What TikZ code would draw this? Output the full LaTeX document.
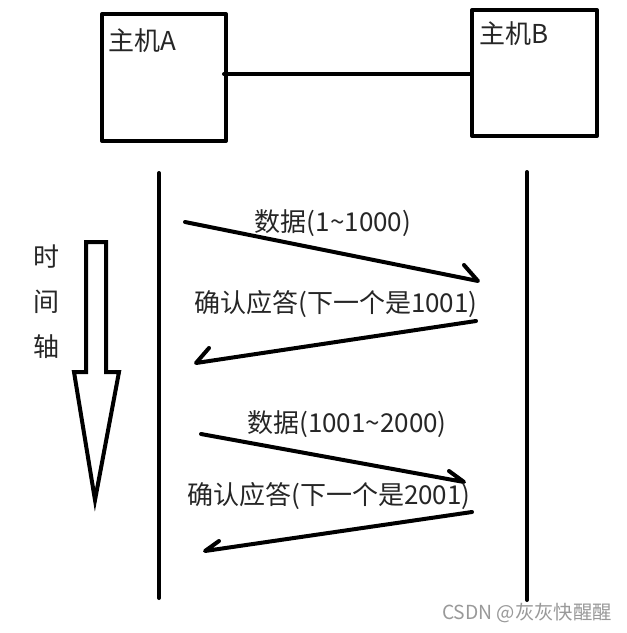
\documentclass[tikz,border=0pt]{standalone}
\usepackage{fontspec}
\setmainfont{Noto Sans CJK SC}
\newcommand{\tld}{{\char"7E\relax}}
\begin{document}
\begin{tikzpicture}[x=0.75pt,y=-0.75pt,
  line/.style={line width=3pt,line cap=round,line join=round},
  lbl/.style={font=\fontsize{19.5}{21}\selectfont,text=black!85,inner sep=0pt},
  wmark/.style={font=\fontsize{14.5}{16}\selectfont,text=black!40,inner sep=0pt}]
\useasboundingbox[fill=white] (0,0) rectangle (627,633);
% hosts
\node[line,draw,minimum width=124*0.75pt,minimum height=127*0.75pt,anchor=north west] (A) at (100,12) {};
\node[line,draw,minimum width=125*0.75pt,minimum height=126*0.75pt,anchor=north west] (B) at (470,8) {};
\node[lbl,anchor=west] (Al) at (108,41) {主机A};
\node[lbl,anchor=west] (Bl) at (479,34) {主机B};
\coordinate (a1) at (224,74);
\coordinate (b1) at (470,74);
\draw[line] (a1) -- (b1);
% timelines
\coordinate (At) at (159,173);
\coordinate (Ab) at (159,598);
\coordinate (Bt) at (527,172);
\coordinate (Bb) at (527,600);
\draw[line] (At) -- (Ab);
\draw[line] (Bt) -- (Bb);
% messages
\coordinate (m1s) at (185,222); \coordinate (m1e) at (478,281); \coordinate (m1b) at (464,265);
\coordinate (m2s) at (476,321); \coordinate (m2e) at (196,363); \coordinate (m2b) at (209,348);
\coordinate (m3s) at (201,434); \coordinate (m3e) at (464,482); \coordinate (m3b) at (449,471);
\coordinate (m4s) at (472,512); \coordinate (m4e) at (205,551); \coordinate (m4b) at (219,541);
\draw[line] (m1s) -- (m1e) -- (m1b);
\draw[line] (m2s) -- (m2e) -- (m2b);
\draw[line] (m3s) -- (m3e) -- (m3b);
\draw[line] (m4s) -- (m4e) -- (m4b);
\node[lbl] (t1) at (333,223) {数据(1\tld1000)};
\node[lbl] (t2) at (336,304) {确认应答(下一个是1001)};
\node[lbl] (t3) at (347,424) {数据(1001\tld2000)};
\node[lbl] (t4) at (329,496) {确认应答(下一个是2001)};
% time axis
\draw[line,line cap=butt,line join=miter] (86,372) -- (86,242) -- (106,242) -- (106,372) -- (119,372) -- (95,500) -- (74,372) -- cycle;
\node[lbl] (s1) at (46,257) {时};
\node[lbl] (s2) at (46,302) {间};
\node[lbl] (s3) at (46,347) {轴};
\node[wmark] (wm) at (527,613) {CSDN @灰灰快醒醒};
\end{tikzpicture}
\end{document}
